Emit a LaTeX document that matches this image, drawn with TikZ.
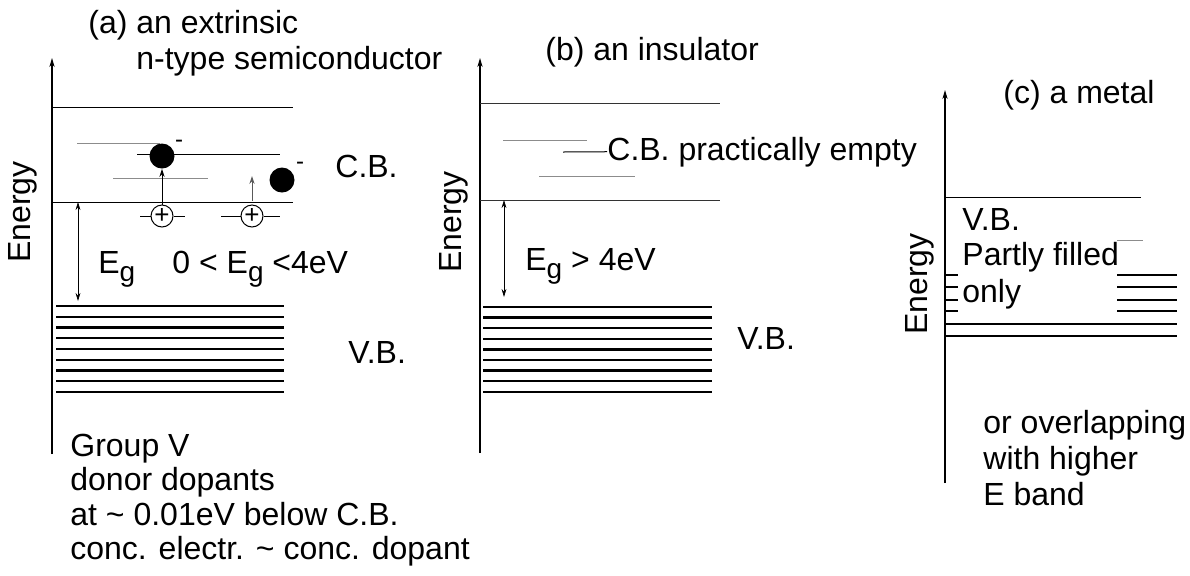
\documentclass[tikz,border=0pt]{standalone}
\usepackage{fontspec}
\setmainfont{Liberation Sans}
\usetikzlibrary{arrows.meta}

\newcommand{\Eg}{E\raisebox{-4pt}{\fontsize{14}{14}\selectfont g}}

\tikzset{
    lvl/.style={line width=0.5pt},
    faint/.style={line width=0.5pt, black!45},
    band/.style={line width=1.2pt},
    axis/.style={line width=0.6pt, -{Stealth[length=4.5pt,width=2.6pt]}},
    gap/.style={line width=0.4pt, {Stealth[length=4pt,width=2.4pt]}-{Stealth[length=4pt,width=2.4pt]}},
    pump/.style={line width=0.5pt, -{Stealth[length=4pt,width=2.6pt]}},
    lbl/.style={inner sep=0pt, anchor=base west, font=\fontsize{16}{18}\selectfont},
    ylbl/.style={inner sep=0pt, rotate=90, font=\fontsize{16}{18}\selectfont},
    electron/.style={circle, fill=black, minimum size=12.5pt, inner sep=0pt},
    donor/.style={circle, draw, fill=white, line width=0.5pt, minimum size=11pt, inner sep=0pt, font=\fontsize{13}{13}\selectfont},
    minus/.style={inner sep=0pt, font=\fontsize{12}{12}\selectfont}
}

\begin{document}
\begin{tikzpicture}[x=0.5pt,y=-0.5pt]
    \useasboundingbox (0,0) rectangle (1190,575);

    % (a) n-type semiconductor
    \coordinate (ya0) at (52,454);
    \coordinate (ya1) at (52,58);
    \draw[axis] (ya0) -- (ya1);
    \node[ylbl] (ea) at (23,212) {Energy};
    \node[lbl] (ta1) at (88,33) {(a) an extrinsic};
    \node[lbl] (ta2) at (136,69) {n-type semiconductor};

    \draw[lvl] (53,107) -- (293,107);
    \draw[faint] (77,143) -- (160,143);
    \draw[lvl] (137,154) -- (280,154);
    \draw[faint] (113,178) -- (208,178);
    \draw[lvl] (53,202) -- (293,202);
    \foreach \k in {0,...,8}
        \draw[band] (56,306+10.75*\k) -- (284,306+10.75*\k);

    \node[electron] (e1) at (162,156) {};
    \node[electron] (e2) at (282,180) {};
    \node[minus] (m1) at (179,144) {-};
    \node[minus] (m2) at (300,166) {-};

    \node[donor] (h1) at (162,216) {+};
    \node[donor] (h2) at (252,216) {+};
    \coordinate (d1l) at (140,216);
    \coordinate (d1r) at (185,216);
    \coordinate (d2l) at (221,216);
    \coordinate (d2r) at (280,216);
    \draw[lvl] (d1l) -- (h1.west);
    \draw[lvl] (h1.east) -- (d1r);
    \draw[lvl] (d2l) -- (h2.west);
    \draw[lvl] (h2.east) -- (d2r);

    \coordinate (t2a) at (252,201);
    \coordinate (t2b) at (252,176);
    \draw[pump] (h1) -- (e1);
    \draw[pump, black!65] (t2a) -- (t2b);

    \coordinate (ga0) at (78,202);
    \coordinate (ga1) at (78,301);
    \draw[gap] (ga0) -- (ga1);

    \node[lbl] (cba) at (335,177) {C.B.};
    \node[lbl] (ega) at (98,273) {\Eg};
    \node[lbl] (rga) at (172,273) {0 < \Eg{} <4eV};
    \node[lbl] (vba) at (348,363) {V.B.};
    \foreach \txt [count=\i from 0] in {{Group V}, {donor dopants},
        {at \textasciitilde{} 0.01eV below C.B.}, {conc. electr. \textasciitilde{} conc. dopant}}
        \node[lbl] (da\i) at (70,456+34.5*\i) {\txt};

    % (b) insulator
    \coordinate (yb0) at (480,453);
    \coordinate (yb1) at (480,58);
    \draw[axis] (yb0) -- (yb1);
    \node[ylbl] (eb) at (454,222) {Energy};
    \node[lbl] (tb) at (545,60) {(b) an insulator};

    \node[lbl] (cbb) at (607,160) {C.B. practically empty};
    \draw[lvl, black!80] (480,103) -- (720,103);
    \draw[faint] (503,140) -- (587,140);
    \draw[lvl] (563,152) -- (cbb.west);
    \draw[faint] (539,176) -- (635,176);
    \draw[lvl, black!80] (480,200) -- (720,200);
    \foreach \k in {0,...,8}
        \draw[band] (483,307+10.6*\k) -- (712,307+10.6*\k);

    \coordinate (gb0) at (504,200);
    \coordinate (gb1) at (504,297);
    \draw[gap] (gb0) -- (gb1);

    \node[lbl] (egb) at (525,270) {\Eg{} > 4eV};
    \node[lbl] (vbb) at (737,349) {V.B.};

    % (c) metal
    \coordinate (yc0) at (945,483);
    \coordinate (yc1) at (945,90);
    \draw[axis] (yc0) -- (yc1);
    \node[ylbl] (ec) at (920,284) {Energy};
    \node[lbl] (tc) at (1003,103) {(c) a metal};

    \draw[lvl] (945,197) -- (1141,197);
    \draw[faint] (1117,240) -- (1143,240);
    \foreach \yy in {275,287,300,311} {
        \draw[band] (945,\yy) -- (958,\yy);
        \draw[band] (1117,\yy) -- (1177,\yy);
    }
    \foreach \yy in {324,336}
        \draw[band] (945,\yy) -- (1177,\yy);

    \node[lbl] (vbc) at (962,230) {V.B.};
    \node[lbl] (pfc) at (962,265) {Partly filled};
    \node[lbl] (onc) at (962,302) {only};
    \foreach \txt [count=\i from 0] in {{or overlapping}, {with higher}, {E band}}
        \node[lbl] (oc\i) at (983,433+36*\i) {\txt};
\end{tikzpicture}
\end{document}
